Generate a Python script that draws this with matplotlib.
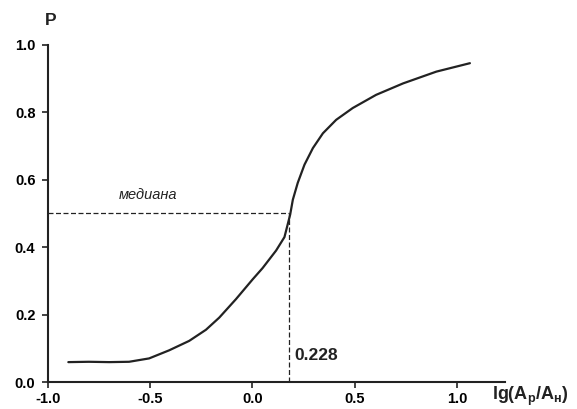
import matplotlib
matplotlib.use("Agg")
import matplotlib.pyplot as plt

# ============================================================
# DANE
# ============================================================

curve_x = [-0.90, -0.80, -0.70, -0.603, -0.505, -0.407, -0.309, -0.227, -0.162, -0.080,
           0.002, 0.05, 0.116, 0.157, 0.178, 0.185, 0.198, 0.222, 0.255, 0.296,
           0.345, 0.410, 0.491, 0.605, 0.737, 0.90, 1.064]
curve_p = [0.059, 0.060, 0.059, 0.060, 0.070, 0.094, 0.122, 0.155, 0.191, 0.246,
           0.305, 0.338, 0.390, 0.430, 0.480, 0.497, 0.541, 0.591, 0.645, 0.694,
           0.738, 0.778, 0.813, 0.852, 0.886, 0.921, 0.946]

median_x = 0.181
median_p = 0.5
median_label = "0.228"

x_ticks = [-1.0, -0.5, 0.0, 0.5, 1.0]
y_ticks = [0.0, 0.2, 0.4, 0.6, 0.8, 1.0]

# ============================================================
# WYKRES
# ============================================================

plt.rcParams["font.family"] = ["Liberation Sans", "DejaVu Sans"]
plt.rcParams["mathtext.fontset"] = "custom"
plt.rcParams["mathtext.rm"] = "Liberation Sans:bold"

fig = plt.figure(figsize=(5.77, 4.09), dpi=100)
ax = fig.add_axes([0.083, 0.066, 0.792, 0.824])

ax.plot(curve_x, curve_p, color="#222222", lw=1.6, solid_capstyle="round", solid_joinstyle="round")
ax.plot([-1.0, median_x], [median_p, median_p], color="#222222", lw=0.9, ls=(0, (4, 2)))
ax.plot([median_x, median_x], [0.0, median_p], color="#222222", lw=0.9, ls=(0, (4, 2)))

ax.set_xlim(-1.0, 1.235)
ax.set_ylim(0.0, 1.0)
ax.set_xticks(x_ticks)
ax.set_yticks(y_ticks)
ax.set_xticklabels([f"{v:.1f}" for v in x_ticks], fontweight="bold", fontsize=10.5)
ax.set_yticklabels([f"{v:.1f}" for v in y_ticks], fontweight="bold", fontsize=10.5)
ax.tick_params(axis="y", direction="out", length=4, width=1.2, color="#222222", pad=5)
ax.tick_params(axis="x", direction="out", length=4, width=1.2, color="#222222", pad=3)

for s in ["top", "right"]:
    ax.spines[s].set_visible(False)
for s in ["left", "bottom"]:
    ax.spines[s].set_linewidth(1.5)
    ax.spines[s].set_color("#222222")

ax.text(-0.51, 0.555, "медиана", style="italic", fontsize=10.5, ha="center", va="center", color="#222222")
ax.text(median_x + 0.025, 0.08, median_label, fontsize=12.5, fontweight="bold", ha="left", va="center",
        color="#222222")

fig.text(0.088, 0.949, "P", fontsize=12.5, fontweight="bold", ha="center", va="center", color="#222222")
fig.text(0.853, 0.032, r"lg(A$_\mathregular{р}$/A$_\mathregular{н}$)", fontsize=13, fontweight="bold",
         ha="left", va="center", color="#222222")

fig.savefig("out.png", dpi=100)
